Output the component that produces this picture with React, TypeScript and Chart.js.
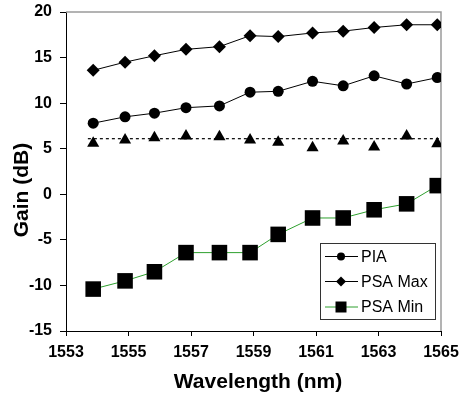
import React, { useEffect, useRef } from "react";
import { Chart, registerables } from "chart.js";

Chart.register(...registerables);

const wavelengths = [1553.87, 1554.89, 1555.83, 1556.84, 1557.91, 1558.89, 1559.79, 1560.89, 1561.87, 1562.86, 1563.9, 1564.88];
const piaGain = [7.8, 8.5, 8.9, 9.5, 9.7, 11.2, 11.3, 12.4, 11.9, 13.0, 12.1, 12.8];
const psaMaxGain = [13.6, 14.5, 15.2, 15.9, 16.2, 17.4, 17.3, 17.7, 17.9, 18.3, 18.6, 18.6];
const psaMinGain = [-10.4, -9.5, -8.5, -6.4, -6.4, -6.4, -4.4, -2.6, -2.6, -1.7, -1.05, 0.95];
const triangleGain = [5.6, 5.95, 6.2, 6.4, 6.3, 5.95, 5.7, 5.1, 5.85, 5.2, 6.4, 5.55];
const refLineX = [1553.7, 1565];
const refLineY = [6.1, 6.1];
const seriesLabels = ["PIA", "PSA Max", "PSA Min"];
const xTitle = "Wavelength (nm)";
const yTitle = "Gain (dB)";

const FONT = "'Liberation Sans', Arial, sans-serif";
const GREEN = "#2ea02e";

const toPts = (xs: number[], ys: number[]) => xs.map((x, i) => ({ x, y: ys[i] }));

function drawMarker(ctx: CanvasRenderingContext2D, style: string, x: number, y: number, r: number) {
  ctx.beginPath();
  if (style === "circle") {
    ctx.arc(x, y, r, 0, Math.PI * 2);
  } else if (style === "rectRot") {
    ctx.moveTo(x - r, y);
    ctx.lineTo(x, y - r);
    ctx.lineTo(x + r, y);
    ctx.lineTo(x, y + r);
    ctx.closePath();
  } else {
    ctx.rect(x - r, y - r, 2 * r, 2 * r);
  }
  ctx.fill();
}

const decorPlugin = {
  id: "decor",
  beforeDatasetsDraw(chart: any) {
    const { ctx, chartArea } = chart;
    ctx.save();
    ctx.strokeStyle = "#9a9a9a";
    ctx.lineWidth = 1.5;
    ctx.beginPath();
    ctx.moveTo(chartArea.left, chartArea.top);
    ctx.lineTo(chartArea.right, chartArea.top);
    ctx.lineTo(chartArea.right, chartArea.bottom);
    ctx.stroke();
    ctx.restore();
  },
  afterDraw(chart: any) {
    const { ctx } = chart;
    ctx.save();
    ctx.fillStyle = "#000";
    ctx.font = `bold 21px ${FONT}`;
    ctx.textAlign = "center";
    ctx.textBaseline = "middle";
    ctx.fillText(xTitle, 258, 382);
    ctx.save();
    ctx.translate(22, 190);
    ctx.rotate(-Math.PI / 2);
    ctx.fillText(yTitle, 0, 0);
    ctx.restore();

    const bx = 320, by = 243, bw = 115, bh = 76;
    ctx.fillStyle = "#fff";
    ctx.fillRect(bx, by, bw, bh);
    ctx.strokeStyle = "#333";
    ctx.lineWidth = 1;
    ctx.strokeRect(bx + 0.5, by + 0.5, bw, bh);
    const rows = chart.data.datasets.filter((d: any) => d.inLegend);
    const rowY = [256.5, 281.5, 307];
    const legendR: Record<string, number> = { circle: 4, rectRot: 5, rect: 5.5 };
    rows.forEach((d: any, i: number) => {
      const y = rowY[i];
      ctx.strokeStyle = d.borderColor;
      ctx.lineWidth = 1;
      ctx.beginPath();
      ctx.moveTo(325, y);
      ctx.lineTo(358, y);
      ctx.stroke();
      ctx.fillStyle = "#000";
      drawMarker(ctx, d.pointStyle, 341, y, legendR[d.pointStyle]);
      ctx.font = `16px ${FONT}`;
      ctx.textAlign = "left";
      ctx.textBaseline = "middle";
      ctx.fillStyle = "#000";
      ctx.fillText(d.label, 361, y + 1);
    });
    ctx.restore();
  },
};

export default function App() {
  const ref = useRef<HTMLCanvasElement>(null);
  useEffect(() => {
    if (!ref.current) return;
    const chart = new Chart(ref.current, {
      type: "line",
      data: {
        datasets: [
          {
            label: seriesLabels[0],
            inLegend: true,
            data: toPts(wavelengths, piaGain),
            borderColor: "#000",
            borderWidth: 1,
            pointStyle: "circle",
            pointRadius: 5.5,
            pointBackgroundColor: "#000",
            pointBorderColor: "#000",
            pointBorderWidth: 0,
          },
          {
            label: seriesLabels[1],
            inLegend: true,
            data: toPts(wavelengths, psaMaxGain),
            borderColor: "#000",
            borderWidth: 1,
            pointStyle: "rectRot",
            pointRadius: 6.5,
            pointBackgroundColor: "#000",
            pointBorderColor: "#000",
            pointBorderWidth: 0,
          },
          {
            label: seriesLabels[2],
            inLegend: true,
            data: toPts(wavelengths, psaMinGain),
            borderColor: GREEN,
            borderWidth: 1,
            pointStyle: "rect",
            pointRadius: 11,
            pointBackgroundColor: "#000",
            pointBorderColor: "#000",
            pointBorderWidth: 0,
          },
          {
            label: "triangles",
            data: toPts(wavelengths, triangleGain),
            showLine: false,
            borderColor: "#000",
            pointStyle: "triangle",
            pointRadius: 7,
            pointBackgroundColor: "#000",
            pointBorderColor: "#000",
            pointBorderWidth: 0,
          },
          {
            label: "ref",
            data: toPts(refLineX, refLineY),
            borderColor: "#000",
            borderWidth: 1.2,
            borderDash: [3, 3],
            pointRadius: 0,
          },
        ] as any,
      },
      options: {
        animation: false,
        responsive: false,
        layout: { padding: { left: 0, top: 12, right: 21, bottom: 0 } },
        plugins: { legend: { display: false }, tooltip: { enabled: false } },
        scales: {
          x: {
            type: "linear",
            min: 1553,
            max: 1565,
            afterFit: (s: any) => { s.height = 67; s.paddingLeft = 0; s.paddingRight = 0; },
            ticks: {
              stepSize: 2, padding: 7, color: "#000", maxRotation: 0,
              font: { family: FONT, size: 16, weight: "bold" },
              callback: (v: any) => String(v),
            },
            grid: { drawOnChartArea: false, drawTicks: true, tickLength: 5, color: "#000" },
            border: { display: true, color: "#000", width: 1 },
          },
          y: {
            min: -15,
            max: 20,
            afterFit: (s: any) => { s.width = 66; s.paddingTop = 0; s.paddingBottom = 0; },
            ticks: { stepSize: 5, padding: 8, color: "#000", font: { family: FONT, size: 16, weight: "bold" } },
            grid: { drawOnChartArea: false, drawTicks: true, tickLength: 6, color: "#000" },
            border: { display: true, color: "#000", width: 1 },
          },
        },
      } as any,
      plugins: [decorPlugin],
    });
    return () => chart.destroy();
  }, []);
  return (
    <div style={{ position: "absolute", left: 0, top: 0, width: 462, height: 398, background: "#fff" }}>
      <canvas ref={ref} width={462} height={398} />
    </div>
  );
}
